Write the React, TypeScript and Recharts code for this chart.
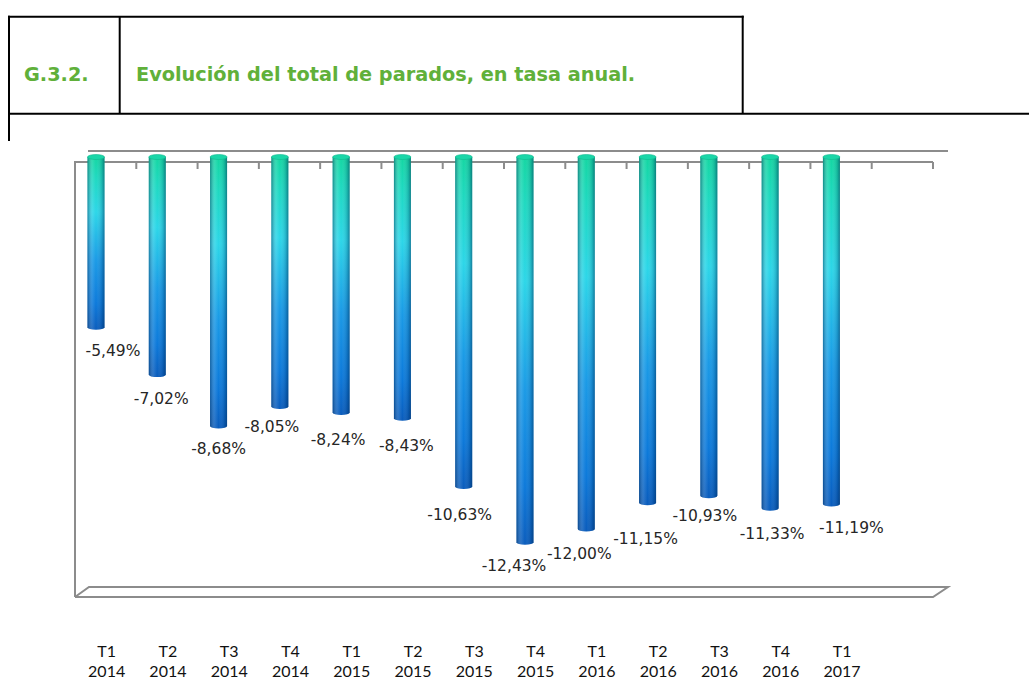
import React from "react";
import { BarChart, Bar, XAxis, YAxis } from "recharts";

// Quarterly annual rate of change of total unemployed (%)
const QUARTERS = ["T1", "T2", "T3", "T4", "T1", "T2", "T3", "T4", "T1", "T2", "T3", "T4", "T1"];
const YEARS = ["2014", "2014", "2014", "2014", "2015", "2015", "2015", "2015", "2016", "2016", "2016", "2016", "2017"];
const RATES = [-5.49, -7.02, -8.68, -8.05, -8.24, -8.43, -10.63, -12.43, -12.0, -11.15, -10.93, -11.33, -11.19];

const WIDTH = 1029;
const HEIGHT = 680;
// plot area (front plane of the 3d box)
const PLOT_LEFT = 75;
const PLOT_RIGHT = 933;
const PLOT_TOP = 157;
const PLOT_BOTTOM = 591;
const SLOTS = 14; // Excel left one empty slot after the last quarter
const BAR_W = 17;
const BAR_SHIFT = -9.5; // perspective shift of the cylinders
const DEPTH_X = 15;
const FRAME = "#8c8c8c";
const GREEN = "#60b03a";

// Excel moved some labels around so they don't collide: [dx, dy] from the bar end
const LABEL_NUDGE: [number, number][] = [
  [17, 21], [4, 21], [0, 20], [-8, 17], [-3, 25], [4, 25], [-4, 25],
  [-11, 21], [-7, 22], [-2, 33], [-4, 17], [2, 23], [20, 21],
];

const data = [
  ...QUARTERS.map((q, i) => ({ name: `${q} ${YEARS[i]}`, rate: RATES[i] })),
  { name: "", rate: null },
];

const fmtRate = (v: number) => `${v.toFixed(2).replace(".", ",")}%`;

const Cylinder = (props: any) => {
  const { x, y, width, height, index, payload } = props;
  if (payload == null || payload.rate == null || height == null) return null;
  const top = Math.min(y, y + height);
  const bottom = top + Math.abs(height);
  const cx = x + width / 2 + BAR_SHIFT;
  const left = cx - BAR_W / 2;
  const rx = BAR_W / 2;
  const ry = 2.5;
  const body = `M${left},${top} L${left},${bottom} A${rx},${ry} 0 0 0 ${left + BAR_W},${bottom} L${left + BAR_W},${top} Z`;
  const [dx, dy] = LABEL_NUDGE[index] ?? [0, 22];
  return (
    <g>
      <path d={body} fill="url(#cylFill)" />
      <path d={body} fill="url(#cylShade)" />
      <ellipse cx={cx} cy={top} rx={rx} ry={ry} fill="#1ad6a8" stroke="#10b98e" strokeWidth={0.6} />
      <text
        x={cx + dx}
        y={bottom + 2 + dy + 6}
        textAnchor="middle"
        fontFamily="'DejaVu Sans', sans-serif"
        fontSize={15.5}
        fill="#262626"
      >
        {fmtRate(payload.rate)}
      </text>
    </g>
  );
};

const QuarterTick = (props: any) => {
  const { x, y, payload } = props;
  const [q, yr] = String(payload.value).split(" ");
  if (!q) return null;
  return (
    <g fontFamily="Lato, 'Open Sans', sans-serif" fontSize={16} fill="#111" textAnchor="middle">
      <text x={x + 1} y={y + 66}>{q}</text>
      <text x={x + 1} y={y + 86}>{yr}</text>
    </g>
  );
};

function Header() {
  return (
    <svg width={WIDTH} height={150} style={{ position: "absolute", left: 0, top: 0 }}>
      <g stroke="#000" strokeWidth={2}>
        <line x1={8} y1={16.7} x2={743.7} y2={16.7} />
        <line x1={8} y1={113.7} x2={WIDTH} y2={113.7} />
        <line x1={9} y1={15.7} x2={9} y2={141} />
        <line x1={119.7} y1={16.7} x2={119.7} y2={113.7} />
        <line x1={742.7} y1={15.7} x2={742.7} y2={113.7} />
      </g>
      <g fontFamily="'DejaVu Sans', sans-serif" fontWeight="bold" fontSize={19.3} fill={GREEN}>
        <text x={24} y={81}>G.3.2.</text>
        <text x={136} y={81}>Evolución del total de parados, en tasa anual.</text>
      </g>
    </svg>
  );
}

function Frame() {
  const slotW = (PLOT_RIGHT - PLOT_LEFT) / SLOTS;
  const frontTop = PLOT_TOP + 5;
  const backTop = PLOT_TOP - 6;
  const frontFloor = PLOT_BOTTOM + 6;
  const backFloor = PLOT_BOTTOM - 4;
  const ticks = Array.from({ length: SLOTS }, (_, i) => PLOT_LEFT + slotW * (i + 1));
  return (
    <svg width={WIDTH} height={HEIGHT} style={{ position: "absolute", left: 0, top: 0 }}>
      <g stroke={FRAME} strokeWidth={2} fill="none">
        <line x1={PLOT_LEFT + 13} y1={backTop} x2={PLOT_RIGHT + DEPTH_X} y2={backTop} />
        <line x1={PLOT_LEFT} y1={frontTop} x2={PLOT_RIGHT} y2={frontTop} />
        {ticks.map((t) => (
          <line key={t} x1={t} y1={frontTop} x2={t} y2={frontTop + 7} />
        ))}
        <line x1={PLOT_LEFT} y1={frontTop - 1} x2={PLOT_LEFT} y2={frontFloor} />
        <polyline
          points={`${PLOT_LEFT},${frontFloor} ${PLOT_LEFT + DEPTH_X - 1},${backFloor} ${PLOT_RIGHT + DEPTH_X},${backFloor} ${PLOT_RIGHT},${frontFloor} ${PLOT_LEFT},${frontFloor}`}
        />
      </g>
    </svg>
  );
}

export default function App() {
  return (
    <div style={{ position: "relative", width: WIDTH, height: HEIGHT, overflow: "hidden", background: "#fff" }}>
      <style>{"body{margin:0}"}</style>
      <Header />
      <Frame />
      <div style={{ position: "absolute", left: 0, top: 0 }}>
        <BarChart
          width={WIDTH}
          height={HEIGHT}
          data={data}
          margin={{ top: PLOT_TOP, right: WIDTH - PLOT_RIGHT, bottom: 0, left: PLOT_LEFT }}
          barCategoryGap={0}
        >
          <defs>
            <linearGradient id="cylFill" x1="0" y1="0" x2="0" y2="1">
              <stop offset="0%" stopColor="#14d6a2" />
              <stop offset="12%" stopColor="#1ed9c0" />
              <stop offset="32%" stopColor="#2cd6e8" />
              <stop offset="60%" stopColor="#1a9ae6" />
              <stop offset="85%" stopColor="#0c79da" />
              <stop offset="100%" stopColor="#0a5cbc" />
            </linearGradient>
            <linearGradient id="cylShade" x1="0" y1="0" x2="1" y2="0">
              <stop offset="0%" stopColor="#002850" stopOpacity={0.45} />
              <stop offset="30%" stopColor="#ffffff" stopOpacity={0.12} />
              <stop offset="50%" stopColor="#ffffff" stopOpacity={0} />
              <stop offset="85%" stopColor="#002850" stopOpacity={0.2} />
              <stop offset="100%" stopColor="#002850" stopOpacity={0.5} />
            </linearGradient>
          </defs>
          <XAxis
            dataKey="name"
            interval={0}
            axisLine={false}
            tickLine={false}
            tickSize={0}
            tickMargin={0}
            height={HEIGHT - PLOT_BOTTOM}
            tick={<QuarterTick />}
          />
          <YAxis hide domain={[-14, 0]} />
          <Bar dataKey="rate" barSize={BAR_W} shape={<Cylinder />} isAnimationActive={false} />
        </BarChart>
      </div>
    </div>
  );
}
